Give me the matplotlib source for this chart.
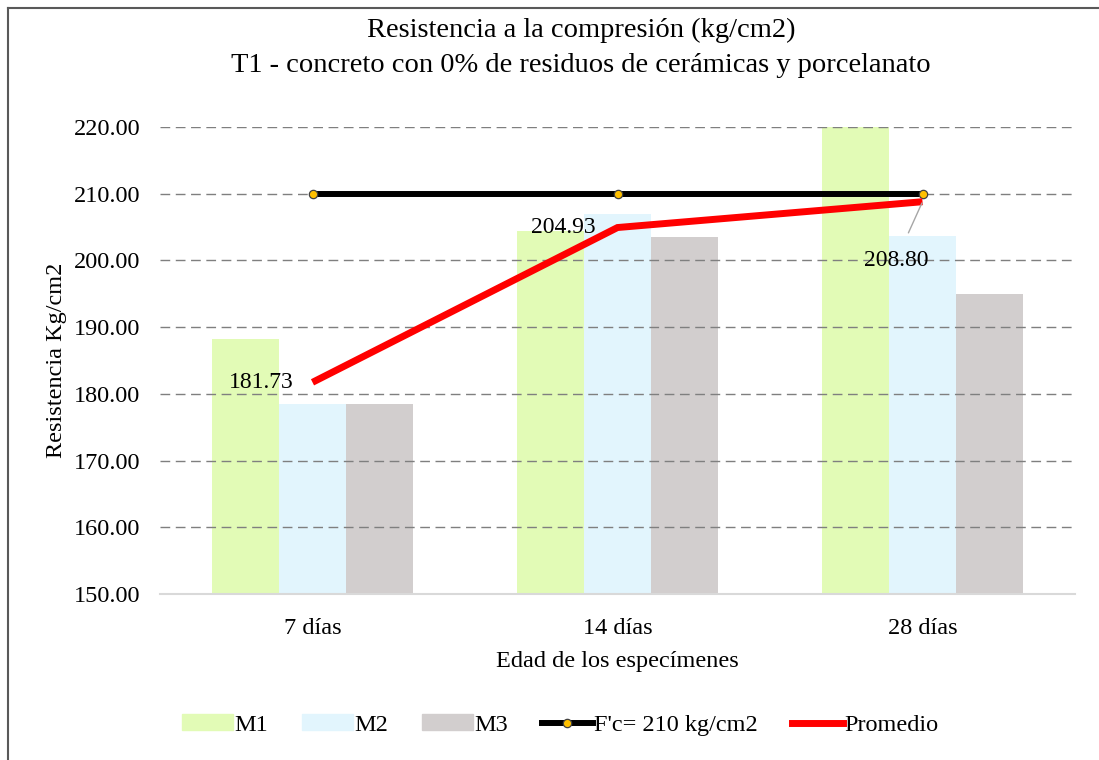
import matplotlib
matplotlib.use("Agg")
import matplotlib.pyplot as plt
import numpy as np
from matplotlib.lines import Line2D
from matplotlib.patches import Patch

categories = ["7 días", "14 días", "28 días"]
m1 = [188.2, 204.4, 227.7]
m2 = [178.5, 206.9, 203.7]
m3 = [178.5, 203.5, 195.0]
fc = [210, 210, 210]
promedio = [181.73, 204.93, 208.80]
yticks = [150, 160, 170, 180, 190, 200, 210, 220]

plt.rcParams['font.family'] = ['Liberation Serif', 'DejaVu Serif']
FS = 17.5

fig = plt.figure(figsize=(10.99, 7.6), dpi=100)
ax = fig.add_axes([160/1099, 1-594/760, (1075-160)/1099, (594-127)/760])

x = np.arange(len(categories))
w = 0.22
c1, c2, c3 = "#E2FBB6", "#E2F5FD", "#D2CECE"
ax.bar(x - w, m1, w, color=c1, zorder=2)
ax.bar(x, m2, w, color=c2, zorder=2)
ax.bar(x + w, m3, w, color=c3, zorder=2)

ax.plot(x, fc, color="black", lw=4.3, zorder=4, solid_capstyle="butt")
ax.plot(x, fc, ls="none", marker="o", ms=6, mfc="#FFC000", mec="#404040", mew=0.9, zorder=5)
ax.plot(x, promedio, color="#FF0000", lw=5, zorder=6, solid_capstyle="butt", solid_joinstyle="miter")

ax.set_ylim(150, 220)
ax.set_xlim(-0.5, 2.5)
ax.set_yticks(yticks)
ax.set_yticklabels([f"{v:.2f}" for v in yticks], fontsize=FS)
ax.set_xticks(x)
ax.set_xticklabels(categories, fontsize=FS)
ax.tick_params(axis="y", length=0, pad=14)
ax.tick_params(axis="x", length=0, pad=17)
ax.yaxis.grid(True, ls=(0, (7, 4)), color="#7F7F7F", lw=1.0, zorder=3)
ax.set_axisbelow(False)
for s in ["top", "right", "left"]:
    ax.spines[s].set_visible(False)
ax.spines["bottom"].set_color("#D9D9D9")
ax.spines["bottom"].set_linewidth(1.5)
ax.spines["bottom"].set_zorder(7)

# data labels
ax.annotate(f"{promedio[0]:.2f}", (x[0], promedio[0]), xytext=(-37, 0), textcoords="offset points",
            ha="center", va="center", fontsize=17, zorder=8)
ax.annotate(f"{promedio[1]:.2f}", (x[1], promedio[1]), xytext=(-39, 0), textcoords="offset points",
            ha="center", va="center", fontsize=17, zorder=8)
ax.annotate(f"{promedio[2]:.2f}", (x[2], promedio[2]), xytext=(-19, -42), textcoords="offset points",
            ha="center", va="center", fontsize=17, zorder=8,
            arrowprops=dict(arrowstyle="-", color="#A6A6A6", lw=1, shrinkA=11, shrinkB=1))

ax.set_xlabel("Edad de los especímenes", fontsize=FS, labelpad=9)
ax.set_ylabel("Resistencia Kg/cm2", fontsize=FS, labelpad=5)

fig.text(581/1099, 1-30/760, "Resistencia a la compresión (kg/cm2)", ha="center", va="center", fontsize=20.5)
fig.text(581/1099, 1-66/760, "T1 - concreto con 0% de residuos de cerámicas y porcelanato", ha="center", va="center", fontsize=20.5)

handles = [Patch(color=c1, label="M1"), Patch(color=c2, label="M2"), Patch(color=c3, label="M3"),
           Line2D([0], [0], color="black", lw=4.3, marker="o", ms=6, mfc="#FFC000", mec="#404040", mew=0.9,
                  label="F'c= 210 kg/cm2"),
           Line2D([0], [0], color="#FF0000", lw=5, label="Promedio")]
fig.legend(handles=handles, loc="center", bbox_to_anchor=(560/1099, 1-725/760), ncol=5, frameon=False,
           fontsize=FS, handlelength=2.1, handletextpad=0.05, columnspacing=1.4, handleheight=0.65)

# partial chart border (top and left edges)
fig.add_artist(Line2D([8/1099, 8/1099], [0, 1-8/760], transform=fig.transFigure, color="#595959", lw=1.5))
fig.add_artist(Line2D([8/1099, 1], [1-8/760, 1-8/760], transform=fig.transFigure, color="#595959", lw=1.5))

fig.savefig("out.png", dpi=100)
